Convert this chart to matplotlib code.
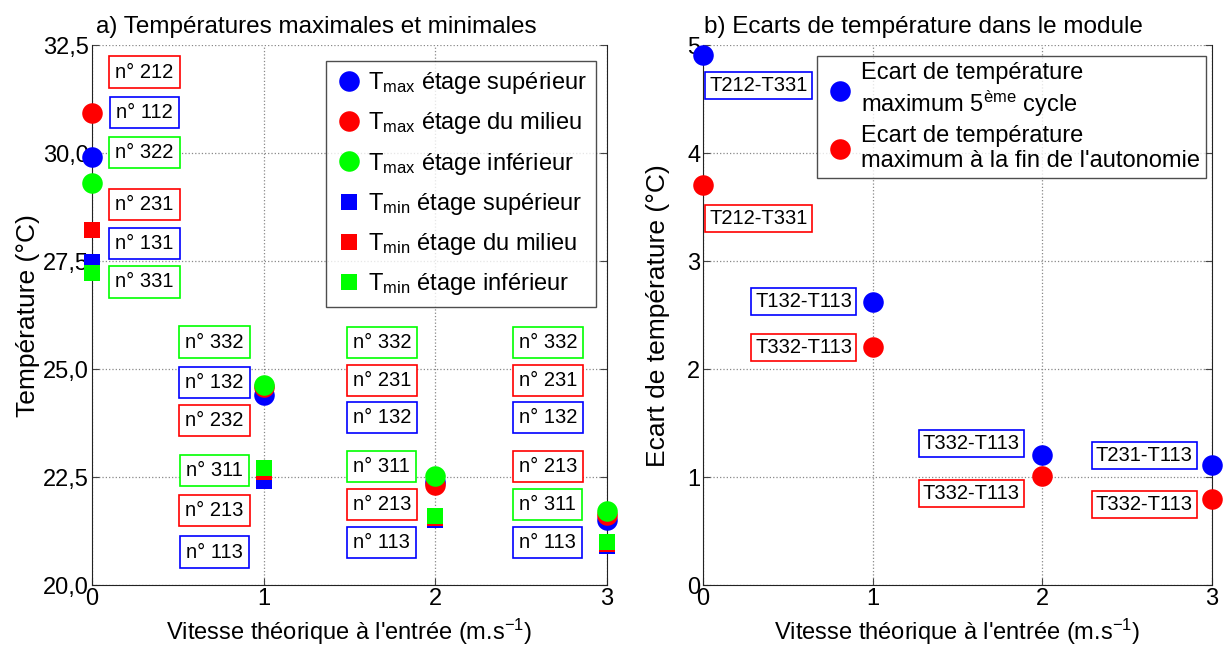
import matplotlib
matplotlib.use('Agg')
import matplotlib.pyplot as plt
import numpy as np

plt.rcParams['font.family'] = ['Liberation Sans', 'DejaVu Sans']
plt.rcParams['mathtext.fontset'] = 'custom'
plt.rcParams['mathtext.rm'] = 'Liberation Sans'
plt.rcParams['mathtext.it'] = 'Liberation Sans'

# --- data, panel a) ---
vitesse = [0, 1, 2, 3]
tmax_sup = [29.91, 24.40, 22.40, 21.50]
tmax_mil = [30.92, 24.60, 22.32, 21.62]
tmax_inf = [29.31, 24.63, 22.52, 21.72]
tmin_sup = [27.48, 22.41, 21.50, 20.90]
tmin_mil = [28.22, 22.62, 21.55, 20.95]
tmin_inf = [27.23, 22.71, 21.60, 21.00]

# sensor labels per speed (top to bottom)
capteurs = [
    ['212', '112', '322', '231', '131', '331'],
    ['332', '132', '232', '311', '213', '113'],
    ['332', '231', '132', '311', '213', '113'],
    ['332', '231', '132', '213', '311', '113'],
]

# --- data, panel b) ---
ecart_5cycle = [4.91, 2.62, 1.21, 1.11]
ecart_fin = [3.71, 2.21, 1.01, 0.80]
paires_5cycle = ['T212-T331', 'T132-T113', 'T332-T113', 'T231-T113']
paires_fin = ['T212-T331', 'T332-T113', 'T332-T113', 'T332-T113']

# label placement (layout only)
lab_x_a = [0.306, 0.714, 1.689, 2.656]
lab_y_a = [
    [31.88, 30.94, 30.01, 28.82, 27.91, 27.02],
    [25.63, 24.70, 23.81, 22.66, 21.73, 20.77],
    [25.61, 24.75, 23.88, 22.75, 21.87, 20.99],
    [25.61, 24.75, 23.88, 22.75, 21.86, 20.99],
]
lab_x_b = [0.327, 0.593, 1.58, 2.60]
lab_y_b5 = [4.63, 2.63, 1.31, 1.20]
lab_y_bf = [3.40, 2.20, 0.85, 0.75]

B, R, G = (0, 0, 1), (1, 0, 0), (0, 1, 0)
niveau_col = {'1': B, '2': R, '3': G}
fs = 17
fs_box = 14.5

fig = plt.figure(figsize=(12.23, 6.46), dpi=100)
ax1 = fig.add_axes([0.0752, 0.094, 0.421, 0.836])
ax2 = fig.add_axes([0.5748, 0.094, 0.4162, 0.836])

def style(ax):
    ax.spines['top'].set_visible(False)
    for s in ['left', 'right', 'bottom']:
        ax.spines[s].set_color('#222222')
    ax.tick_params(direction='in', right=True, top=False, length=5,
                   labelsize=fs, pad=2, color='#444444')
    ax.grid(True, linestyle=':', color='#888888', linewidth=0.9)
    ax.set_axisbelow(True)
    ax.set_xlim(0, 3)
    ax.set_xticks([0, 1, 2, 3])
    ax.set_xlabel("Vitesse théorique à l'entrée (m.s$^{\\mathrm{-1}}$)", fontsize=fs,
                  labelpad=5)

ms_c, ms_s = 14.8, 12
series = [
    (tmax_sup, 'o', B, ms_c, 'T$_{\\mathrm{max}}$ étage supérieur'),
    (tmax_mil, 'o', R, ms_c, 'T$_{\\mathrm{max}}$ étage du milieu'),
    (tmax_inf, 'o', G, ms_c, 'T$_{\\mathrm{max}}$ étage inférieur'),
    (tmin_sup, 's', B, ms_s, 'T$_{\\mathrm{min}}$ étage supérieur'),
    (tmin_mil, 's', R, ms_s, 'T$_{\\mathrm{min}}$ étage du milieu'),
    (tmin_inf, 's', G, ms_s, 'T$_{\\mathrm{min}}$ étage inférieur'),
]
for vals, m, c, ms, lab in series:
    ax1.plot(vitesse, vals, linestyle='none', marker=m, color=c, markersize=ms,
             markeredgewidth=0, label=lab, clip_on=False, zorder=3)

for i, noms in enumerate(capteurs):
    for j, n in enumerate(noms):
        ax1.text(lab_x_a[i], lab_y_a[i][j], 'n° ' + n, ha='center', va='center',
                 fontsize=fs_box, zorder=4,
                 bbox=dict(boxstyle='square,pad=0.3', fc='white',
                           ec=niveau_col[n[0]], lw=1.2))

style(ax1)
ax1.set_ylim(20, 32.5)
yt = [20, 22.5, 25, 27.5, 30, 32.5]
ax1.set_yticks(yt)
ax1.set_yticklabels([('%.1f' % v).replace('.', ',') for v in yt])
ax1.set_ylabel('Température (°C)', fontsize=19, labelpad=2)
ax1.set_title('a) Températures maximales et minimales', fontsize=fs + 0.5,
              x=0.436, pad=9)
leg1 = ax1.legend(loc='upper right', bbox_to_anchor=(0.979, 0.971), fontsize=fs,
                  frameon=True, fancybox=False, edgecolor='#222222',
                  handletextpad=0.25, handlelength=1.1, labelspacing=0.6,
                  borderpad=0.4, borderaxespad=0)
leg1.get_frame().set_linewidth(1.0)

# panel b
ax2.plot(vitesse, ecart_5cycle, linestyle='none', marker='o', color=B,
         markersize=ms_c, markeredgewidth=0, clip_on=False, zorder=3,
         label='Ecart de température\nmaximum 5$^{\\mathrm{ème}}$ cycle')
ax2.plot(vitesse, ecart_fin, linestyle='none', marker='o', color=R,
         markersize=ms_c, markeredgewidth=0, clip_on=False, zorder=3,
         label="Ecart de température\nmaximum à la fin de l'autonomie")
for i in range(4):
    ax2.text(lab_x_b[i], lab_y_b5[i], paires_5cycle[i], ha='center', va='center',
             fontsize=fs_box, zorder=4,
             bbox=dict(boxstyle='square,pad=0.2', fc='white', ec=B, lw=1.2))
    ax2.text(lab_x_b[i], lab_y_bf[i], paires_fin[i], ha='center', va='center',
             fontsize=fs_box, zorder=4,
             bbox=dict(boxstyle='square,pad=0.2', fc='white', ec=R, lw=1.2))

style(ax2)
ax2.set_ylim(0, 5)
ax2.set_yticks([0, 1, 2, 3, 4, 5])
ax2.set_ylabel('Ecart de température (°C)', fontsize=19, labelpad=12)
ax2.set_title('b) Ecarts de température dans le module', fontsize=fs + 0.5,
              x=0.434, pad=9)
leg2 = ax2.legend(loc='upper right', bbox_to_anchor=(0.988, 0.980), fontsize=fs,
                  frameon=True, fancybox=False, edgecolor='#222222',
                  handletextpad=0.2, handlelength=1.4, labelspacing=0.25,
                  borderpad=0.25, borderaxespad=0)
leg2.get_frame().set_linewidth(1.0)

fig.savefig('out.png', dpi=100)
